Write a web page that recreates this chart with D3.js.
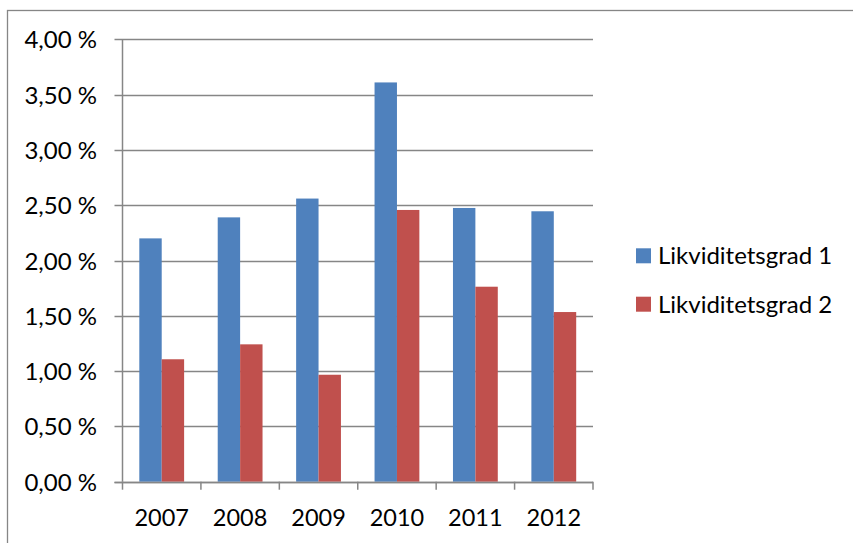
<!DOCTYPE html>
<html>
<head>
<meta charset="utf-8">
<script src="https://cdn.jsdelivr.net/npm/d3@7"></script>
<style>
  html, body { margin: 0; padding: 0; background: #fff; }
  svg { display: block; }
  text { font-family: Lato, "Open Sans", sans-serif; fill: #000; }
</style>
</head>
<body>
<svg id="chart" width="853" height="543"></svg>
<script>
// Data
const years = ["2007", "2008", "2009", "2010", "2011", "2012"];
const seriesNames = ["Likviditetsgrad 1", "Likviditetsgrad 2"];
const grad1 = [2.20, 2.39, 2.56, 3.61, 2.475, 2.445];
const grad2 = [1.107, 1.242, 0.967, 2.457, 1.763, 1.534];
const yTicks = [0, 0.5, 1, 1.5, 2, 2.5, 3, 3.5, 4];
const colors = ["#4F81BD", "#C0504D"];

const svg = d3.select("#chart");
const gray = "#868686";

// Outer chart frame
svg.append("rect")
  .attr("x", 7.5).attr("y", 10.5)
  .attr("width", 850).attr("height", 545)
  .attr("fill", "none").attr("stroke", gray).attr("stroke-width", 1.3);

const plot = { left: 122.5, right: 593, top: 39.3, bottom: 481.7 };

const x = d3.scaleBand().domain(years).range([plot.left, plot.right]).paddingInner(0).paddingOuter(0);
const y = d3.scaleLinear().domain([0, 4]).range([plot.bottom, plot.top]);

// bar width with 150% gap: band = 2 bars + 1.5 bar
const bw = x.bandwidth() / 3.5;

// Gridlines (extend over tick marks on the left)
svg.append("g").selectAll("line").data(yTicks).join("line")
  .attr("x1", plot.left - 8).attr("x2", plot.right)
  .attr("y1", d => Math.round(y(d)) + 0.5).attr("y2", d => Math.round(y(d)) + 0.5)
  .attr("stroke", gray).attr("stroke-width", 1.3);

// Bars
const data = years.map((yr, i) => ({ yr, vals: [grad1[i], grad2[i]] }));
const groups = svg.append("g").selectAll("g").data(data).join("g")
  .attr("transform", d => `translate(${x(d.yr) + 0.75 * bw},0)`);
groups.selectAll("rect").data(d => d.vals).join("rect")
  .attr("x", (d, i) => i * bw)
  .attr("y", d => y(d))
  .attr("width", bw)
  .attr("height", d => y(0) - y(d))
  .attr("fill", (d, i) => colors[i]);

// Y axis line
svg.append("line")
  .attr("x1", plot.left).attr("x2", plot.left)
  .attr("y1", Math.round(plot.top)).attr("y2", plot.bottom)
  .attr("stroke", gray).attr("stroke-width", 1.5);

// X axis line + ticks at category boundaries
svg.append("line")
  .attr("x1", plot.left - 8).attr("x2", plot.right)
  .attr("y1", Math.round(plot.bottom) + 0.5).attr("y2", Math.round(plot.bottom) + 0.5)
  .attr("stroke", gray).attr("stroke-width", 1.5);
const boundaries = years.map(d => x(d)).concat([x(years[years.length - 1]) + x.bandwidth()]);
svg.append("g").selectAll("line").data(boundaries).join("line")
  .attr("x1", d => d).attr("x2", d => d)
  .attr("y1", plot.bottom).attr("y2", plot.bottom + 8)
  .attr("stroke", gray).attr("stroke-width", 1.5);

// Y tick labels
const fmt = v => v.toFixed(2).replace(".", ",") + " %";
svg.append("g").selectAll("text").data(yTicks).join("text")
  .attr("x", 97).attr("y", d => y(d) + 9)
  .attr("text-anchor", "end")
  .attr("font-size", 24)
  .text(fmt);

// X labels
svg.append("g").selectAll("text").data(years).join("text")
  .attr("x", d => x(d) + x.bandwidth() / 2)
  .attr("y", 525.5)
  .attr("text-anchor", "middle")
  .attr("font-size", 23.5)
  .text(d => d);

// Legend
const legend = svg.append("g").selectAll("g").data(seriesNames).join("g")
  .attr("transform", (d, i) => `translate(636,${248.3 + i * 48.4})`);
legend.append("rect").attr("width", 15).attr("height", 15).attr("fill", (d, i) => colors[i]);
legend.append("text").attr("x", 22).attr("y", 15.9)
  .attr("font-size", 24).text(d => d);
</script>
</body>
</html>
